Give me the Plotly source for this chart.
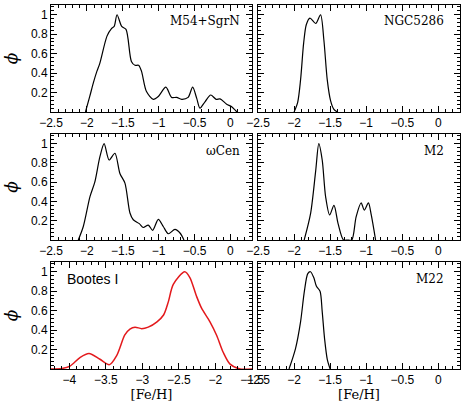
import plotly.graph_objects as go

# ---------------- data ----------------
m54_feh = [-2.02, -1.96, -1.91, -1.86, -1.82, -1.72, -1.655, -1.62, -1.58, -1.515, -1.455, -1.38, -1.33,
           -1.28, -1.24, -1.17, -1.075, -1.005, -0.90, -0.82, -0.75, -0.68, -0.59, -0.527, -0.47, -0.425,
           -0.355, -0.275, -0.20, -0.145, -0.053, 0.017, 0.09]
m54_phi = [0, 0.16, 0.30, 0.42, 0.50, 0.78, 0.86, 0.88, 1.0, 0.88, 0.85, 0.52, 0.48,
           0.48, 0.42, 0.21, 0.13, 0.16, 0.255, 0.15, 0.15, 0.13, 0.15, 0.255, 0.14, 0.04,
           0.105, 0.175, 0.13, 0.135, 0.08, 0.055, 0.0]

ngc5286_feh = [-2.0, -1.95, -1.91, -1.867, -1.83, -1.78, -1.70, -1.633, -1.587, -1.54, -1.495, -1.45, -1.40]
ngc5286_phi = [0, 0.10, 0.33, 0.71, 0.90, 0.965, 0.91, 1.0, 0.74, 0.33, 0.12, 0.03, 0]

omega_feh = [-2.12, -2.05, -1.957, -1.89, -1.82, -1.76, -1.69, -1.61, -1.54, -1.47, -1.40, -1.354, -1.27,
             -1.214, -1.145, -1.084, -1.005, -0.936, -0.866, -0.773, -0.70, -0.648]
omega_phi = [0, 0.14, 0.45, 0.60, 0.86, 1.0, 0.83, 0.90, 0.69, 0.59, 0.28, 0.21, 0.17,
             0.13, 0.155, 0.10, 0.215, 0.14, 0.065, 0.11, 0.07, 0]

m2_feh = [-1.86, -1.77, -1.70, -1.657, -1.61, -1.563, -1.507, -1.447, -1.39, -1.315, -1.26, -1.20,
          -1.14, -1.07, -1.027, -0.97, -0.93, -0.87]
m2_phi = [0, 0.28, 0.72, 1.0, 0.83, 0.45, 0.26, 0.36, 0.17, 0, 0, 0,
          0.24, 0.385, 0.31, 0.385, 0.26, 0]

bootes_feh = [-4.25, -4.10, -3.99, -3.85, -3.73, -3.58, -3.45, -3.35, -3.24, -3.17, -3.10, -3.01, -2.92,
              -2.80, -2.71, -2.645, -2.577, -2.42, -2.35, -2.26, -2.19, -2.075, -1.983, -1.893, -1.80,
              -1.665, -1.5]
bootes_phi = [0, 0.005, 0.03, 0.12, 0.16, 0.10, 0.045, 0.14, 0.35, 0.41, 0.43, 0.415, 0.43,
              0.485, 0.555, 0.69, 0.87, 1.0, 0.94, 0.75, 0.625, 0.485, 0.345, 0.17, 0.05,
              0.0, 0.0]

m22_feh = [-2.07, -1.98, -1.91, -1.857, -1.81, -1.773, -1.727, -1.69, -1.64, -1.61, -1.577, -1.54, -1.50]
m22_phi = [0, 0.21, 0.485, 0.80, 0.98, 1.0, 0.94, 0.85, 0.80, 0.59, 0.31, 0.10, 0]

panel_names = ["M54+SgrN", "NGC5286", "\u03c9Cen", "M2", "Bootes I", "M22"]
x_ticks_gc = [-2.5, -2, -1.5, -1, -0.5, 0]
x_ticks_boo = [-4, -3.5, -3, -2.5, -2, -1.5]
y_ticks = [0.2, 0.4, 0.6, 0.8, 1]

# ---------------- figure ----------------
W, H = 469, 405
series = [
    (m54_feh, m54_phi, "black"),
    (ngc5286_feh, ngc5286_phi, "black"),
    (omega_feh, omega_phi, "black"),
    (m2_feh, m2_phi, "black"),
    (bootes_feh, bootes_phi, "#e3191c"),
    (m22_feh, m22_phi, "black"),
]

xdom_left = [51 / W, 252 / W]
xdom_right = [258 / W, 460 / W]
ydoms = [[(H - 112) / H, (H - 5) / H], [(H - 240) / H, (H - 134) / H], [(H - 369) / H, (H - 262) / H]]

tickstyle = dict(ticks="inside", ticklen=6, tickwidth=1, tickcolor="black",
                 showgrid=False, zeroline=False, automargin=False)
xminor = dict(ticks="inside", ticklen=3, tickwidth=1, tickcolor="black", tick0=0, dtick=0.1, showgrid=False)
yminor = dict(ticks="inside", ticklen=3, tickwidth=1, tickcolor="black", tick0=0, dtick=0.04, showgrid=False)
tickfont = dict(family="Liberation Sans", size=12, color="black")

fig = go.Figure()
layout = {}
for i, (xs, ys, col) in enumerate(series):
    k = i + 1
    xa = "x" if k == 1 else f"x{k}"
    ya = "y" if k == 1 else f"y{k}"
    fig.add_trace(go.Scatter(x=xs, y=ys, mode="lines", xaxis=xa, yaxis=ya,
                             line=dict(color=col, width=1.5 if col != "black" else 1.2,
                                       shape="spline", smoothing=0.8),
                             showlegend=False, hoverinfo="skip"))
    row, colidx = divmod(i, 2)
    is_boo = (i == 4)
    xrange = [-4.25, -1.5] if is_boo else [-2.5, 0.3]
    xt = x_ticks_boo if is_boo else x_ticks_gc
    xkey = "xaxis" if k == 1 else f"xaxis{k}"
    ykey = "yaxis" if k == 1 else f"yaxis{k}"
    xaxis = dict(tickstyle, showline=True, linecolor="black", linewidth=1, mirror=True,
                 domain=xdom_left if colidx == 0 else xdom_right, range=xrange,
                 anchor=ya, tickvals=xt, minor=xminor, tickfont=tickfont)
    if row == 2:
        xaxis["title"] = dict(text="[Fe/H]", standoff=3,
                              font=dict(family="DejaVu Serif", size=13, color="black"))
    yaxis = dict(tickstyle, showline=True, linecolor="black", linewidth=1, mirror=True,
                 domain=ydoms[row], range=[0, 1.1], anchor=xa, tickvals=y_ticks,
                 showticklabels=(colidx == 0), minor=yminor, tickfont=tickfont)
    if colidx == 0:
        yaxis["title"] = dict(text="<i>\u03d5</i>", standoff=8,
                              font=dict(family="DejaVu Serif", size=17, color="black"))
    layout[xkey] = xaxis
    layout[ykey] = yaxis

    # tick marks on the top and right frame edges
    kt = k + 6
    kr = k + 12
    layout[f"xaxis{kt}"] = dict(tickstyle, overlaying=xa, side="top", anchor=ya, range=xrange,
                                tickvals=xt, showticklabels=False, showline=False, minor=xminor)
    layout[f"yaxis{kr}"] = dict(tickstyle, overlaying=ya, side="right", anchor=xa, range=[0, 1.1],
                                tickvals=y_ticks, showticklabels=False, showline=False, minor=yminor)
    fig.add_trace(go.Scatter(x=[], y=[], xaxis=f"x{kt}", yaxis=ya, showlegend=False, hoverinfo="skip"))
    fig.add_trace(go.Scatter(x=[], y=[], xaxis=xa, yaxis=f"y{kr}", showlegend=False, hoverinfo="skip"))

fig.update_layout(**layout)

# panel labels
ann = []
label_pos = [
    (0.95, 0.85, "right", "DejaVu Serif", 12),
    (0.93, 0.85, "right", "DejaVu Serif", 12),
    (0.95, 0.84, "right", "DejaVu Serif", 12),
    (0.93, 0.84, "right", "DejaVu Serif", 12),
    (0.07, 0.84, "left", "Liberation Sans", 14),
    (0.93, 0.84, "right", "DejaVu Serif", 12),
]
for i, name in enumerate(panel_names):
    k = i + 1
    xa = "x" if k == 1 else f"x{k}"
    ya = "y" if k == 1 else f"y{k}"
    px, py, anc, fam, sz = label_pos[i]
    ann.append(dict(text=name, x=px, y=py, xref=f"{xa} domain", yref=f"{ya} domain",
                    xanchor=anc, yanchor="middle", showarrow=False,
                    font=dict(family=fam, size=sz, color="black")))

fig.update_layout(annotations=ann, width=W, height=H, template="none",
                  margin=dict(l=0, r=0, t=0, b=0, autoexpand=False),
                  paper_bgcolor="white", plot_bgcolor="white",
                  font=dict(family="Liberation Sans", color="black"))

fig.write_html("out.html", config={"displayModeBar": False},
               post_script="document.body.style.margin='0px';")
